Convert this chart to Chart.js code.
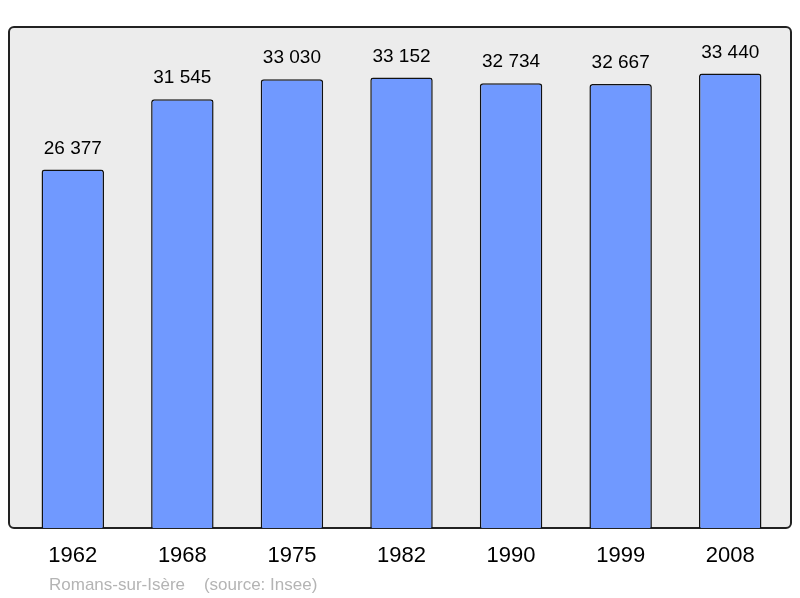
<!DOCTYPE html>
<html>
<head>
<meta charset="utf-8">
<script src="https://cdn.jsdelivr.net/npm/chart.js@4"></script>
<style>
  html, body { margin: 0; padding: 0; background: #fff; }
  #wrap { width: 800px; height: 598px; }
</style>
</head>
<body>
<div id="wrap"><canvas id="chart1"></canvas></div>
<script>
var years = ["1962", "1968", "1975", "1982", "1990", "1999", "2008"];
var population = [26377, 31545, 33030, 33152, 32734, 32667, 33440];
var sourceText = "Romans-sur-Isère    (source: Insee)";

function fmt(n) {
  return String(n).replace(/\B(?=(\d{3})+(?!\d))/g, " ");
}

// grey rounded panel behind the bars
var panelPlugin = {
  id: "panel",
  beforeDraw: function (chart) {
    var c = chart.ctx, a = chart.chartArea;
    var x = a.left - 9, y = a.top, w = a.right - a.left + 15, h = a.bottom - a.top;
    c.save();
    c.beginPath();
    c.roundRect(x, y, w, h, 5);
    c.fillStyle = "#ececec";
    c.fill();
    c.lineWidth = 2;
    c.strokeStyle = "#222";
    c.stroke();
    c.restore();
  },
  afterDatasetsDraw: function (chart) {
    var c = chart.ctx;
    var meta = chart.getDatasetMeta(0);
    c.save();
    c.font = "19px 'Liberation Sans', Arial, sans-serif";
    c.fillStyle = "#000";
    c.textAlign = "center";
    c.textBaseline = "alphabetic";
    meta.data.forEach(function (bar, i) {
      c.fillText(fmt(population[i]), bar.x, bar.y - 16);
    });
    c.font = "17px 'Liberation Sans', Arial, sans-serif";
    c.fillStyle = "#b4b4b4";
    c.textAlign = "left";
    c.fillText(sourceText, 49, 590);
    c.restore();
  }
};

var ctx1 = document.getElementById("chart1").getContext("2d");
new Chart(ctx1, {
  type: "bar",
  data: {
    labels: years,
    datasets: [
      {
        data: population,
        backgroundColor: "#7099ff",
        borderColor: "#111",
        borderWidth: 1.5,
        borderRadius: { topLeft: 3, topRight: 3 },
        borderSkipped: "bottom",
        barPercentage: 0.57,
        categoryPercentage: 1.0,
      },
    ],
  },
  options: {
    responsive: true,
    maintainAspectRatio: false,
    animation: false,
    layout: { padding: { left: 18, right: 15, top: 27, bottom: 13.6 } },
    plugins: { legend: { display: false }, tooltip: { enabled: false } },
    scales: {
      x: {
        grid: { display: false, drawTicks: false },
        border: { display: false },
        ticks: {
          color: "#000",
          padding: 15,
          font: { family: "'Liberation Sans', Arial, sans-serif", size: 22 },
        },
      },
      y: {
        display: false,
        min: 0,
        max: 36870,
      },
    },
  },
  plugins: [panelPlugin],
});
</script>
</body>
</html>
